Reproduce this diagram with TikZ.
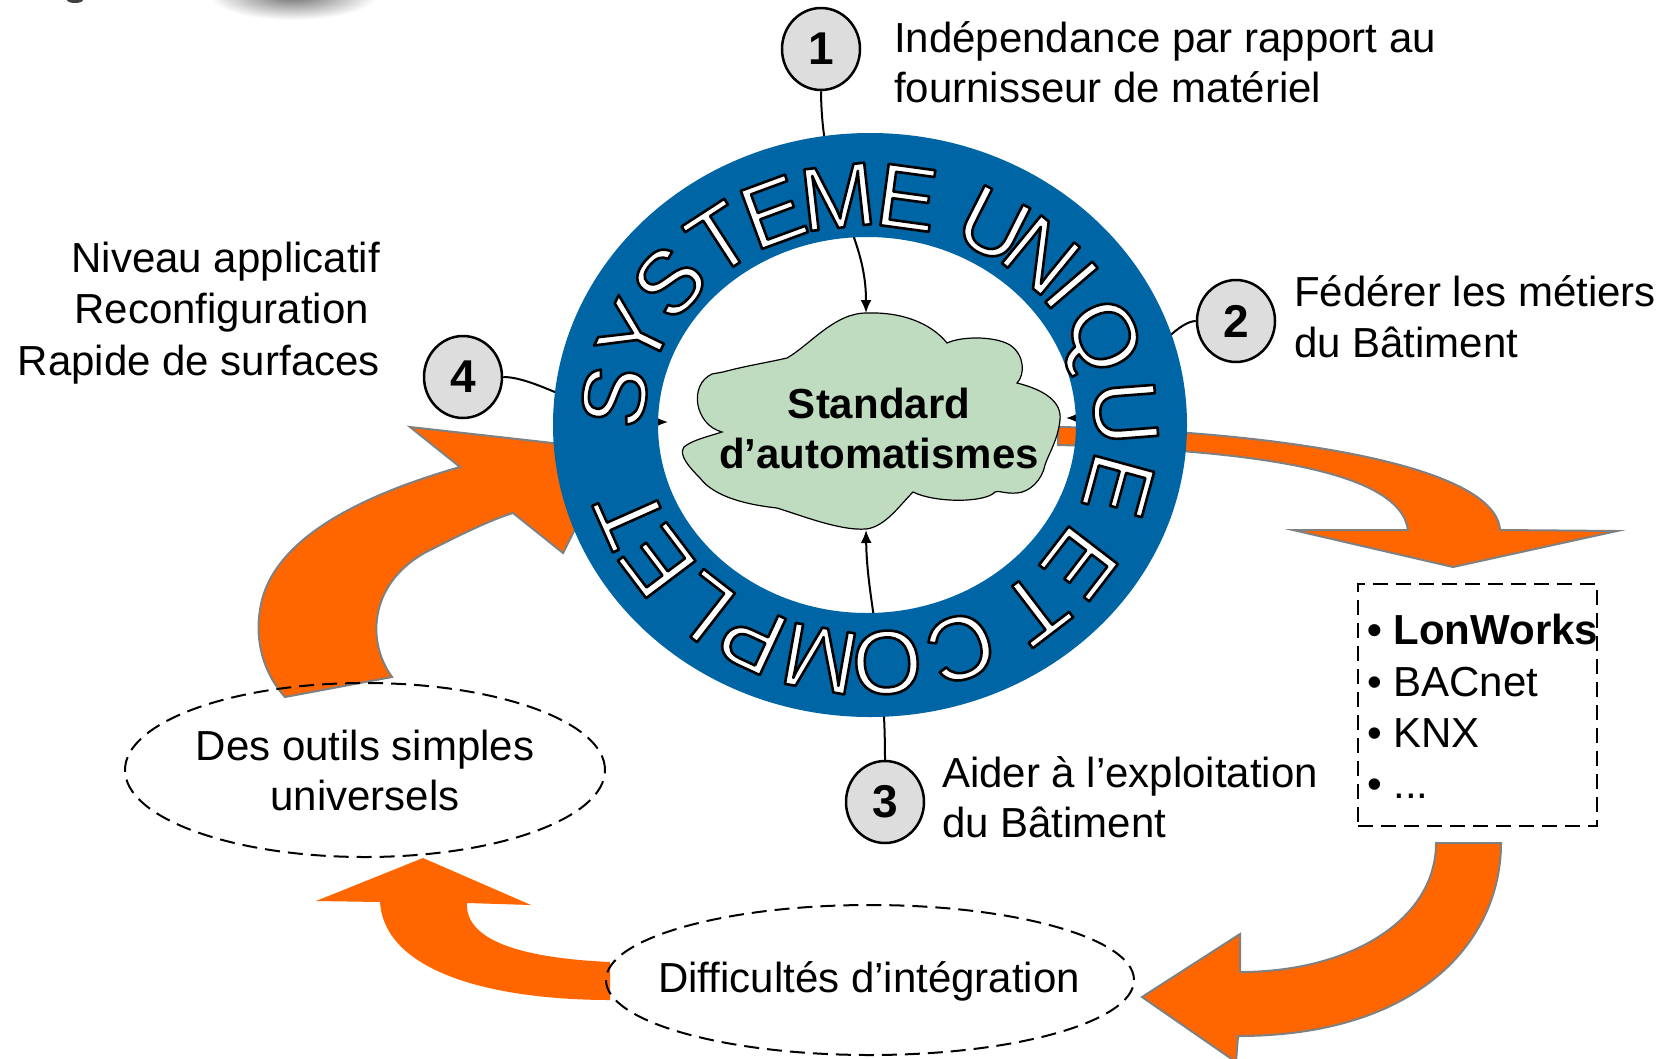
\documentclass[tikz,border=0pt]{standalone}
\usepackage{fontspec}
\setmainfont{Liberation Sans}
\usetikzlibrary{arrows.meta,shapes.geometric}
\definecolor{ringblue}{HTML}{0065A4}
\definecolor{cloudgreen}{HTML}{C0DCC0}
\definecolor{orng}{HTML}{FF6600}
\definecolor{greyedge}{HTML}{808080}
\definecolor{circfill}{HTML}{DDDDDD}
% white letter with a thin black outline (text render mode 2: fill then stroke)
\newcommand{\outlined}[1]{\textcolor{white}{\special{pdf:literal direct 0 G 2.6 w 1 j 2 Tr}#1\special{pdf:literal direct 0 Tr}}}
\begin{document}
\begin{tikzpicture}[x=1pt,y=-1pt,
  txt/.style={inner sep=0pt, font=\fontsize{42}{50}\selectfont},
  numc/.style={ellipse, draw=black, line width=2.5pt, fill=circfill, minimum width=78pt, minimum height=82pt, inner sep=0pt, font=\bfseries\fontsize{46}{46}\selectfont},
  conn/.style={line width=2pt, -{Latex[length=13pt,width=11pt]}},
  orangearrow/.style={fill=orng, draw=greyedge, line width=2pt, line join=miter},
  dashedshape/.style={draw=black, line width=2pt, dash pattern=on 15pt off 8pt, fill=none},
  ringletter/.style={inner sep=0pt, anchor=center, text height=64pt, text depth=0pt, font=\fontsize{90}{90}\selectfont}]
\useasboundingbox (0,0) rectangle (1666,1058);
\fill[white] (0,0) rectangle (1666,1058);

% blurred shape at the top edge
\shade[inner color=black!60, outer color=white] (293,-6) ellipse [x radius=85, y radius=26];
\fill[black!75] (75,0) ellipse [x radius=8, y radius=3];

% orange arrow A (ring -> protocols)
\path[orangearrow] (1058,427) .. controls (1250,430) and (1495,460) .. (1500,530)
  -- (1617,531) -- (1453,567) -- (1293,530) -- (1408,530)
  .. controls (1400,470) and (1250,450) .. (1058,445) -- cycle;
% orange arrow C (tools -> ring)
\path[orangearrow] (410,427) -- (615,450) -- (563,553) -- (513,513)
  .. controls (490,520) and (460,535) .. (430,550)
  .. controls (370,580) and (365,640) .. (392,677)
  -- (285,697)
  .. controls (265,675) and (252,640) .. (262,600)
  .. controls (280,530) and (380,490) .. (460,467) -- cycle;

% cloud
\path[fill=cloudgreen, draw=black, line width=1.2pt]
  (868,313) .. controls (900,312) and (930,322) .. (947,343)
  .. controls (962,336) and (995,336) .. (1010,345)
  .. controls (1025,355) and (1025,375) .. (1017,383)
  .. controls (1045,390) and (1062,402) .. (1060,420)
  .. controls (1058,440) and (1048,455) .. (1045,465)
  .. controls (1042,480) and (1030,492) .. (1017,493)
  .. controls (1005,494) and (998,490) .. (995,492)
  .. controls (985,503) and (935,503) .. (913,492)
  .. controls (900,505) and (885,527) .. (866,529)
  .. controls (840,531) and (800,515) .. (777,508)
  .. controls (750,505) and (715,498) .. (700,478)
  .. controls (690,468) and (678,455) .. (684,447)
  .. controls (692,440) and (710,436) .. (722,432)
  .. controls (695,425) and (688,385) .. (712,374)
  -- (723,372)
  .. controls (745,366) and (770,362) .. (787,358)
  .. controls (810,345) and (835,312) .. (868,313) -- cycle;
\node[txt, anchor=base, font=\bfseries\fontsize{42}{50}\selectfont] (std1) at (879,418) {Standard};
\node[txt, anchor=base, font=\bfseries\fontsize{42}{50}\selectfont] (std2) at (879,468) {d’automatismes};
\coordinate (cT) at (866,313);
\coordinate (cR) at (1066,418);
\coordinate (cB) at (866,530);
\coordinate (cL) at (668,422);

% numbered circles
\node[numc] (n1) at (821,49) {1};
\node[numc] (n2) at (1236,321) {2};
\node[numc] (n3) at (885,802) {3};
\node[numc] (n4) at (463,377) {4};

% connectors (partly hidden by the ring)
\draw[conn] (n1.south) .. controls (822,200) and (866,230) .. (cT);
\draw[conn] (n2.west) .. controls (1165,322) and (1110,418) .. (cR);
\draw[conn] (n3.north) .. controls (885,650) and (867,600) .. (cB);
\draw[conn] (n4.east) .. controls (540,377) and (600,422) .. (cL);

% ring
\fill[ringblue, even odd rule] (870,425) ellipse [x radius=317, y radius=292]
  (867,425) ellipse [x radius=209, y radius=188];
\foreach \t/\L [count=\i] in {172/S,156/Y,141/S,125.5/T,112/E,97/M,81.5/E,61/U,48/N,38/I,23.5/Q,4/U,-14/E,-35/E,-50/T,-69/C,-86/O,-101/M,-117/P,-130.5/L,-145.5/E,-158/T}{
  \pgfmathsetmacro{\ringX}{869+258*cos(\t)}
  \pgfmathsetmacro{\ringY}{429-235*sin(\t)}
  \pgfmathsetmacro{\ringR}{atan2(258*sin(\t),235*cos(\t))-90}
  \node[ringletter, rotate=\ringR] (L\i) at (\ringX,\ringY) {\outlined{\L}};
}

% orange arrow B (protocols -> difficulties)
\path[orangearrow] (1436,843) -- (1501,843)
  .. controls (1501,940) and (1420,1036) .. (1238,1036)
  -- (1236,1062) -- (1142,997) -- (1240,934) -- (1240,972)
  .. controls (1350,972) and (1436,920) .. (1436,843) -- cycle;
% orange arrow D (difficulties -> tools)
\fill[orng] (610,962) .. controls (520,958) and (465,940) .. (467,903)
  -- (531,905) -- (423,858) -- (316,901) -- (380,902)
  .. controls (385,975) and (500,1000) .. (610,1000) -- cycle;

% dashed ellipses and box
\node[dashedshape, ellipse, minimum width=480pt, minimum height=174pt] (tools) at (365,770) {};
\node[txt, anchor=base] (toolsA) at (365,760) {Des outils simples};
\node[txt, anchor=base] (toolsB) at (365,810) {universels};
\node[dashedshape, ellipse, minimum width=528pt, minimum height=150pt] (diff) at (870,980) {};
\node[txt, anchor=base] (diffT) at (869,992) {Difficultés d’intégration};
\node[dashedshape, rectangle, minimum width=239pt, minimum height=242pt] (proto) at (1477.5,705) {};
\node[txt, anchor=base west, font=\bfseries\fontsize{42}{50}\selectfont] (p1) at (1367,644) {• LonWorks};
\node[txt, anchor=base west] (p2) at (1367,696) {• BACnet};
\node[txt, anchor=base west] (p3) at (1367,747) {• KNX};
\node[txt, anchor=base west] (p4) at (1367,798) {• ...};

% labels
\node[txt, anchor=base west] (t1a) at (894,52) {Indépendance par rapport au};
\node[txt, anchor=base west] (t1b) at (894,102) {fournisseur de matériel};
\node[txt, anchor=base west] (t2a) at (1294,306) {Fédérer les métiers};
\node[txt, anchor=base west] (t2b) at (1294,357) {du Bâtiment};
\node[txt, anchor=base west] (t3a) at (942,787) {Aider à l’exploitation};
\node[txt, anchor=base west] (t3b) at (942,837) {du Bâtiment};
\node[txt, anchor=base east] (t4a) at (380,272) {Niveau applicatif};
\node[txt, anchor=base east] (t4b) at (369,323) {Reconfiguration};
\node[txt, anchor=base east] (t4c) at (380,375) {Rapide de surfaces};
\end{tikzpicture}
\end{document}
